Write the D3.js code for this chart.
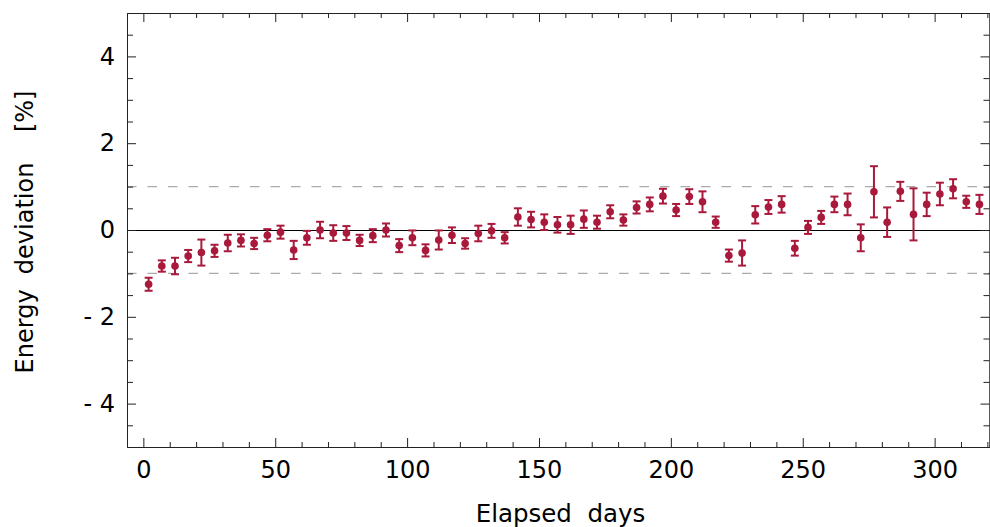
<!DOCTYPE html>
<html>
<head>
<meta charset="utf-8">
<script src="https://cdn.jsdelivr.net/npm/d3@7"></script>
<style>
  html, body { margin: 0; padding: 0; background: #fff; }
  svg { display: block; }
  text { font-family: "DejaVu Sans", sans-serif; fill: #000; }
</style>
</head>
<body>
<svg id="chart" width="990" height="527"></svg>
<script>
// Elapsed days of each measurement
const days = [2, 7, 12, 17, 22, 27, 32, 37, 42, 47, 52, 57, 62, 67, 72, 77, 82, 87, 92, 97, 102,
  107, 112, 117, 122, 127, 132, 137, 142, 147, 152, 157, 162, 167, 172, 177, 182, 187, 192, 197, 202, 207,
  212, 217, 222, 227, 232, 237, 242, 247, 252, 257, 262, 267, 272, 277, 282, 287, 292, 297, 302, 307, 312, 317];

// Energy deviation [%]
const deviation = [-1.25, -0.83, -0.83, -0.60, -0.52, -0.48, -0.30, -0.24, -0.31, -0.12, -0.05, -0.46, -0.18, 0.00, -0.07, -0.07, -0.24, -0.13, 0.00, -0.36, -0.18,
  -0.47, -0.23, -0.12, -0.31, -0.08, -0.02, -0.18, 0.30, 0.24, 0.18, 0.12, 0.12, 0.25, 0.18, 0.42, 0.23, 0.52, 0.59, 0.78, 0.46, 0.77,
  0.65, 0.18, -0.59, -0.53, 0.35, 0.53, 0.59, -0.42, 0.06, 0.29, 0.59, 0.59, -0.18, 0.88, 0.18, 0.89, 0.36, 0.59, 0.83, 0.95, 0.65, 0.59];

// Uncertainty of each point [%]
const uncertainty = [0.15, 0.13, 0.19, 0.14, 0.30, 0.14, 0.19, 0.14, 0.13, 0.14, 0.15, 0.21, 0.16, 0.19, 0.18, 0.16, 0.13, 0.15, 0.15, 0.15, 0.17,
  0.14, 0.22, 0.18, 0.12, 0.18, 0.16, 0.13, 0.20, 0.18, 0.18, 0.18, 0.21, 0.20, 0.15, 0.15, 0.13, 0.14, 0.16, 0.17, 0.14, 0.17,
  0.24, 0.13, 0.14, 0.29, 0.20, 0.16, 0.19, 0.17, 0.15, 0.15, 0.18, 0.25, 0.31, 0.59, 0.34, 0.22, 0.60, 0.27, 0.26, 0.22, 0.14, 0.22];

const xMajorTicks = [0, 50, 100, 150, 200, 250, 300];
const yMajorTicks = [-4, -2, 0, 2, 4];
const bandLevels = [-1, 1];

const svg = d3.select("#chart");
const plotL = 127, plotR = 990, plotT = 13, plotB = 447;

const x = d3.scaleLinear().domain([-6.2, 321]).range([plotL, plotR]);
const y = d3.scaleLinear().domain([-5, 5]).range([plotB, plotT]);

const xMinor = d3.range(0, 321, 10).filter(v => !xMajorTicks.includes(v));
const yMinor = d3.range(-4.5, 5, 0.5).filter(v => !yMajorTicks.includes(v));

const axisColor = "#222";
const yFmt = v => v < 0 ? "- " + Math.abs(v) : String(v);

// Reference lines
svg.append("g").selectAll("line").data(bandLevels).join("line")
  .attr("x1", plotL).attr("x2", plotR)
  .attr("y1", d => y(d)).attr("y2", d => y(d))
  .attr("stroke", "#aaa").attr("stroke-width", 1.4)
  .attr("stroke-dasharray", "9.5,11");

svg.append("line")
  .attr("x1", plotL).attr("x2", plotR)
  .attr("y1", Math.round(y(0)) + 0.5).attr("y2", Math.round(y(0)) + 0.5)
  .attr("stroke", "#000").attr("stroke-width", 1);

// Axes: ticks point inward on all four sides
function styleAxis(g) {
  g.select(".domain").attr("stroke", axisColor);
  g.selectAll(".tick line").attr("stroke", axisColor);
}

svg.append("g").attr("transform", `translate(0,${plotB})`)
  .call(d3.axisBottom(x).tickValues(xMajorTicks).tickSize(-9).tickPadding(14).tickSizeOuter(0))
  .call(styleAxis)
  .call(g => g.selectAll("text").attr("font-size", 24).attr("font-family", "DejaVu Sans"));
svg.append("g").attr("transform", `translate(0,${plotB})`)
  .call(d3.axisBottom(x).tickValues(xMinor).tickSize(-5).tickFormat("").tickSizeOuter(0))
  .call(styleAxis);

svg.append("g").attr("transform", `translate(0,${plotT})`)
  .call(d3.axisTop(x).tickValues(xMajorTicks).tickSize(-9).tickFormat("").tickSizeOuter(0))
  .call(styleAxis);
svg.append("g").attr("transform", `translate(0,${plotT})`)
  .call(d3.axisTop(x).tickValues(xMinor).tickSize(-5).tickFormat("").tickSizeOuter(0))
  .call(styleAxis);

svg.append("g").attr("transform", `translate(${plotL},0)`)
  .call(d3.axisLeft(y).tickValues(yMajorTicks).tickSize(-9).tickPadding(12).tickFormat(yFmt).tickSizeOuter(0))
  .call(styleAxis)
  .call(g => g.selectAll("text").attr("font-size", 24).attr("font-family", "DejaVu Sans").style("white-space", "pre"));
svg.append("g").attr("transform", `translate(${plotL},0)`)
  .call(d3.axisLeft(y).tickValues(yMinor).tickSize(-6).tickFormat("").tickSizeOuter(0))
  .call(styleAxis);

svg.append("g").attr("transform", `translate(${plotR - 0.5},0)`)
  .call(d3.axisRight(y).tickValues(yMajorTicks).tickSize(-9).tickFormat("").tickSizeOuter(0))
  .call(styleAxis);
svg.append("g").attr("transform", `translate(${plotR - 0.5},0)`)
  .call(d3.axisRight(y).tickValues(yMinor).tickSize(-6).tickFormat("").tickSizeOuter(0))
  .call(styleAxis);

// Measurements with error bars
const pts = days.map((d, i) => ({ day: d, v: deviation[i], e: uncertainty[i] }));
const color = "#a8193b";
const cap = 4;

const marks = svg.append("g").selectAll("g").data(pts).join("g");
marks.append("line")
  .attr("x1", d => x(d.day)).attr("x2", d => x(d.day))
  .attr("y1", d => y(d.v - d.e)).attr("y2", d => y(d.v + d.e))
  .attr("stroke", color).attr("stroke-width", 2);
marks.append("line")
  .attr("x1", d => x(d.day) - cap).attr("x2", d => x(d.day) + cap)
  .attr("y1", d => y(d.v + d.e)).attr("y2", d => y(d.v + d.e))
  .attr("stroke", color).attr("stroke-width", 2);
marks.append("line")
  .attr("x1", d => x(d.day) - cap).attr("x2", d => x(d.day) + cap)
  .attr("y1", d => y(d.v - d.e)).attr("y2", d => y(d.v - d.e))
  .attr("stroke", color).attr("stroke-width", 2);
marks.append("circle")
  .attr("cx", d => x(d.day)).attr("cy", d => y(d.v))
  .attr("r", 3.8).attr("fill", color);

// Axis titles
svg.append("text")
  .attr("x", (plotL + plotR) / 2 + 2).attr("y", 522)
  .attr("text-anchor", "middle").attr("font-size", 24.5)
  .style("white-space", "pre")
  .text("Elapsed  days");

svg.append("text")
  .attr("transform", `translate(33,232) rotate(-90)`)
  .attr("text-anchor", "middle").attr("font-size", 24)
  .style("white-space", "pre")
  .text("Energy  deviation    [%]");
</script>
</body>
</html>
